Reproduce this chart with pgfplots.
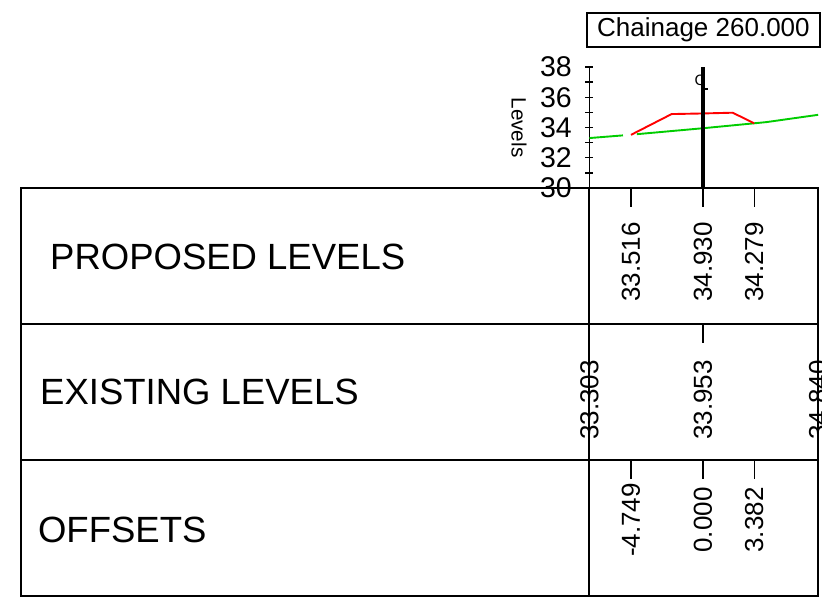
\documentclass[border=0pt]{standalone}
\usepackage{fontspec}
\setmainfont{Liberation Sans}
\usepackage{pgfplots}
\pgfplotsset{compat=1.18}

\definecolor{exgreen}{RGB}{0,205,0}

\begin{document}
\begin{tikzpicture}
\begin{axis}[
    x=15.15pt, y=15.12pt,
    xmin=-7.5, xmax=7.6,
    ymin=30, ymax=38,
    clip=false,
    axis x line=none,
    axis y line=left,
    axis line style={-, line width=1.4pt},
    xtick=\empty,
    ytick={30,32,...,38},
    minor ytick={31,33,35,37},
    tick align=center,
    major tick length=8pt, minor tick length=8pt,
    tick style={black, line width=1.4pt},
    yticklabel style={font=\fontsize{28.5}{30}\selectfont, xshift=-10pt,
        /pgf/number format/assume math mode=true},
    unbounded coords=jump,
]
% existing ground (gap as in the original)
\addplot[exgreen, line width=1.9pt] coordinates {
    (-7.5,33.303) (-5.28,33.48)};
\addplot[exgreen, line width=1.9pt] coordinates {
    (-4.36,33.56) (0,33.953) (3.382,34.279) (4.2,34.36) (7.6,34.840)};
% proposed section
\addplot[red, line width=1.9pt] coordinates {
    (-4.749,33.516) (-2.07,34.89) (0,34.930) (1.96,34.98) (3.382,34.279)};
% centreline
\addplot[black, line width=3.6pt] coordinates {(0,30) (0,38)};
\draw[line width=1.2pt] (axis cs:0,36.55) -- (axis cs:0.33,36.55);
\node[anchor=center, font=\fontsize{15}{15}\selectfont, inner sep=0pt]
    at (axis cs:-0.2,37.1) {C};

\node[rotate=-90, font=\fontsize{20.7}{22}\selectfont]
    at (axis cs:-12.15,34) {Levels};

\node[draw, line width=1.4pt, minimum width=233pt, minimum height=34pt,
    inner sep=0pt, font=\fontsize{26}{28}\selectfont]
    at (axis cs:0.03,40.45) {Chainage 260.000};

% table
\draw[line width=2pt] (axis cs:-45,30) rectangle (axis cs:7.6,3);
\draw[line width=2pt] (axis cs:-45,21) -- (axis cs:7.6,21);
\draw[line width=2pt] (axis cs:-45,12) -- (axis cs:7.6,12);
\draw[line width=2pt] (axis cs:-7.5,30) -- (axis cs:-7.5,3);

\node[anchor=west, font=\fontsize{36.5}{40}\selectfont, inner sep=0pt]
    at (axis cs:-43.1,25.44) {PROPOSED LEVELS};
\node[anchor=west, font=\fontsize{36.5}{40}\selectfont, inner sep=0pt]
    at (axis cs:-43.76,16.51) {EXISTING LEVELS};
\node[anchor=west, font=\fontsize{36.5}{40}\selectfont, inner sep=0pt]
    at (axis cs:-43.9,7.38) {OFFSETS};

% row ticks
\addplot[black, line width=1.4pt] coordinates {
    (-4.749,30) (-4.749,28.74) (-4.749,nan)
    (0,30) (0,28.74) (0,nan)
    (3.382,30) (3.382,28.74)};
\addplot[black, line width=1.4pt] coordinates {(0,21) (0,19.74)};
\addplot[black, line width=1.4pt] coordinates {
    (-4.749,12) (-4.749,10.74) (-4.749,nan)
    (0,12) (0,10.74) (0,nan)
    (3.382,12) (3.382,10.74)};

% row labels
\addplot[draw=none, mark=none, nodes near coords, point meta=explicit symbolic,
    every node near coord/.append style={rotate=90, anchor=center, inner sep=0pt,
        font=\fontsize{26}{28}\selectfont}]
    coordinates {(-4.749,25.1)[33.516] (0,25.1)[34.930] (3.382,25.1)[34.279]};
\addplot[draw=none, mark=none, nodes near coords, point meta=explicit symbolic,
    every node near coord/.append style={rotate=90, anchor=center, inner sep=0pt,
        font=\fontsize{26}{28}\selectfont}]
    coordinates {(-7.5,15.98)[33.303] (0,15.98)[33.953] (7.6,15.98)[34.840]};
\addplot[draw=none, mark=none, nodes near coords, point meta=explicit symbolic,
    every node near coord/.append style={rotate=90, anchor=center, inner sep=0pt,
        font=\fontsize{26}{28}\selectfont}]
    coordinates {(-4.749,8.04)[-4.749] (0,8.04)[0.000] (3.382,8.04)[3.382]};

\coordinate (bbA) at (axis cs:-46.40,2.751);
\coordinate (bbB) at (axis cs:7.855,42.434);
\end{axis}
\pgfresetboundingbox
\useasboundingbox (bbA) rectangle (bbB);
\end{tikzpicture}
\end{document}
